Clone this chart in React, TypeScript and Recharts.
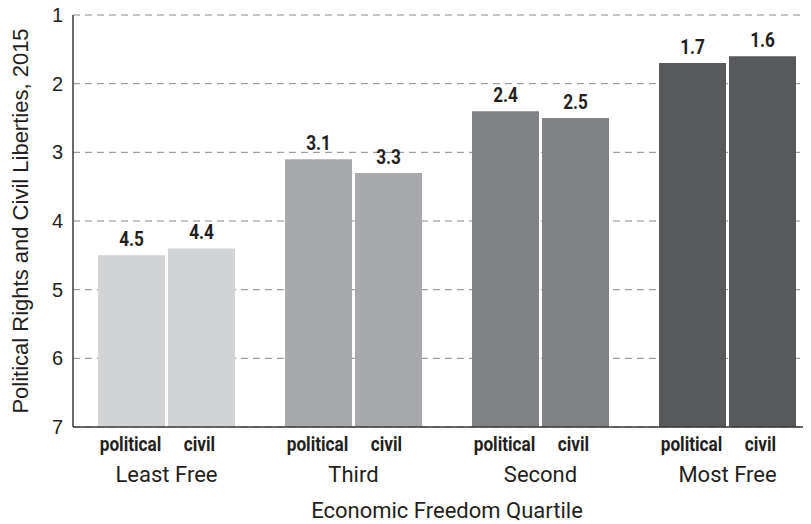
import React from 'react';
import { BarChart, Bar, XAxis, YAxis, CartesianGrid, Cell, LabelList } from 'recharts';

const quartiles = ['Least Free', 'Third', 'Second', 'Most Free'];
const politicalRights = [4.5, 3.1, 2.4, 1.7];
const civilLiberties = [4.4, 3.3, 2.5, 1.6];
const barColors = ['#d1d3d4', '#a7a9ac', '#808285', '#58595b'];
const yTicks = [1, 2, 3, 4, 5, 6, 7];

const data = quartiles.map((name, i) => ({
  name,
  political: politicalRights[i],
  civil: civilLiberties[i],
}));

const ink = '#231f20';

// squeezed bold text, to look like a condensed face
function NarrowText({ x, y, size, children }: any) {
  return (
    <text
      transform={`translate(${x} ${y}) scale(0.82 1)`}
      x={0}
      y={0}
      textAnchor="middle"
      fontFamily="Roboto, sans-serif"
      fontWeight="bold"
      fontSize={size}
      fill={ink}
    >
      {children}
    </text>
  );
}

function QuartileTick(props: any) {
  const { x, y, payload } = props;
  return (
    <g>
      <NarrowText x={x - 36} y={y + 16} size={21}>political</NarrowText>
      <NarrowText x={x + 33} y={y + 16} size={21}>civil</NarrowText>
      <text x={x} y={y + 47} textAnchor="middle" fontFamily="Roboto, sans-serif" fontSize={22} fill={ink}>
        {payload.value}
      </text>
    </g>
  );
}

function makeValueLabel(values: number[]) {
  return (props: any) => {
    const { x, y, width, height, index } = props;
    const top = Math.min(y, y + height);
    return (
      <NarrowText x={x + width / 2} y={top - 9} size={21}>
        {values[index].toFixed(1)}
      </NarrowText>
    );
  };
}

export default function App() {
  // pull the svg up over the body margin so the top tick label has room
  return (
    <div style={{ width: 803, height: 524, marginTop: -8, overflow: 'hidden' }}>
      <BarChart
        width={830}
        height={524}
        data={data}
        margin={{ top: 15, right: 17, left: 0, bottom: 0 }}
        barCategoryGap={25}
        barGap={3}
      >
        <CartesianGrid vertical={false} stroke="#8a8a8a" strokeDasharray="7 5" />
        <XAxis
          dataKey="name"
          height={97}
          tickLine={false}
          axisLine={{ stroke: '#3a3a3a', strokeWidth: 1.5 }}
          tick={<QuartileTick />}
          interval={0}
          label={{
            content: (p: any) => {
              const vb = p.viewBox;
              return (
                <text x={vb.x + vb.width / 2} y={vb.y + 91} textAnchor="middle" fontFamily="Roboto, sans-serif" fontSize={22} fill={ink}>
                  Economic Freedom Quartile
                </text>
              );
            },
          }}
        />
        <YAxis
          type="number"
          domain={[1, 7]}
          ticks={yTicks}
          reversed
          interval={0}
          width={65}
          tickLine={false}
          tickSize={0}
          tickMargin={10}
          axisLine={{ stroke: '#3a3a3a', strokeWidth: 1.5 }}
          tick={{ fontFamily: "'Liberation Sans', Arial, sans-serif", fontSize: 20, fill: ink }}
          label={{
            content: (p: any) => {
              const vb = p.viewBox;
              const cx = vb.x + 12;
              const cy = vb.y + vb.height / 2;
              return (
                <text x={cx} y={cy} transform={`rotate(-90 ${cx} ${cy})`} textAnchor="middle" dominantBaseline="central" fontFamily="'Liberation Sans', Arial, sans-serif" fontSize={22} fill={ink}>
                  Political Rights and Civil Liberties, 2015
                </text>
              );
            },
          }}
        />
        <Bar dataKey={(d: any) => [d.political, 7]} isAnimationActive={false}>
          {data.map((_, i) => (
            <Cell key={i} fill={barColors[i]} />
          ))}
          <LabelList content={makeValueLabel(politicalRights)} />
        </Bar>
        <Bar dataKey={(d: any) => [d.civil, 7]} isAnimationActive={false}>
          {data.map((_, i) => (
            <Cell key={i} fill={barColors[i]} />
          ))}
          <LabelList content={makeValueLabel(civilLiberties)} />
        </Bar>
      </BarChart>
    </div>
  );
}
